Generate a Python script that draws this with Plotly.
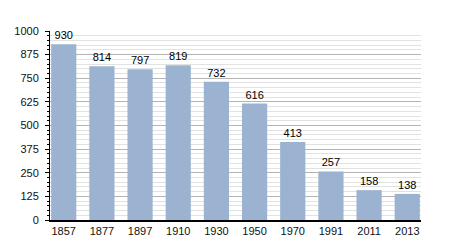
import plotly.graph_objects as go

years = ["1857", "1877", "1897", "1910", "1930", "1950", "1970", "1991", "2011", "2013"]
population = [930, 814, 797, 819, 732, 616, 413, 257, 158, 138]

fig = go.Figure(go.Bar(
    x=years, y=population,
    marker=dict(color="#9bb3d0", line=dict(width=0)),
    width=0.66,
    text=[str(v) for v in population],
    textposition="outside",
    textfont=dict(family="Liberation Sans, Arial", size=11, color="#000"),
    cliponaxis=False,
))

fig.update_layout(
    width=450, height=250,
    margin=dict(l=50, r=29, t=31, b=30),
    paper_bgcolor="white", plot_bgcolor="white",
    showlegend=False,
    font=dict(family="Liberation Sans, Arial", size=11, color="#111"),
    xaxis=dict(
        type="category", range=[-0.36, 9.36],
        showline=True, linecolor="#000", linewidth=2,
        ticks="", showgrid=False,
    ),
    yaxis=dict(
        range=[0, 1000], tickvals=[0, 125, 250, 375, 500, 625, 750, 875, 1000],
        showline=True, linecolor="#000", linewidth=1,
        ticks="outside", ticklen=4, tickcolor="#000",
        ticklabelstandoff=4,
        showgrid=True, gridcolor="#b4b4b4", gridwidth=1,
        zeroline=False,
        minor=dict(dtick=25, tick0=0, showgrid=True, gridcolor="#e2e2e2",
                   ticks="outside", ticklen=2, tickcolor="#000"),
    ),
    bargap=0.34,
)

fig.write_html("out.html")
